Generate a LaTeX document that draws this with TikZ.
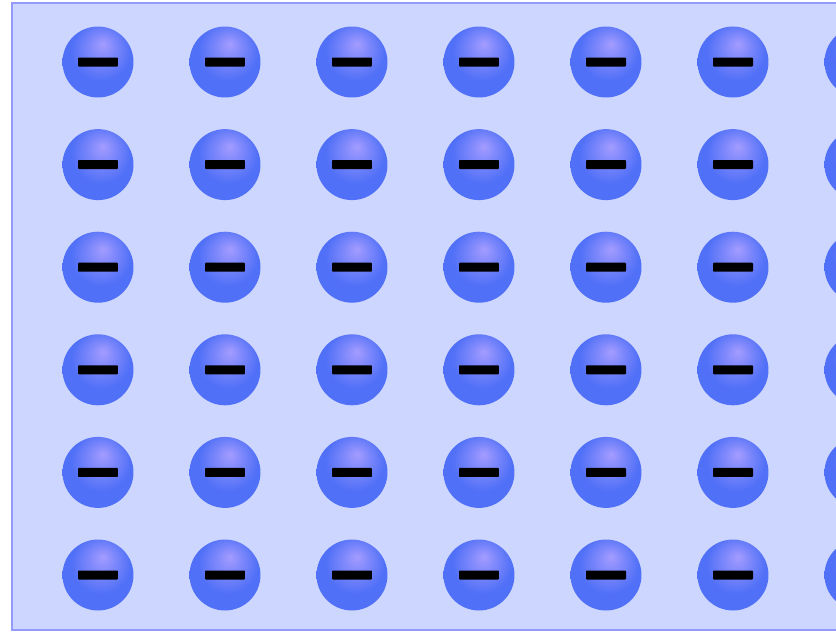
\documentclass[tikz,border=0pt]{standalone}
\usepackage{tikz}
\usepackage{xcolor}
\definecolor{plateblue}{HTML}{CDD6FF}
\definecolor{plateedge}{HTML}{939AFA}
\definecolor{ballblue}{HTML}{5070F7}
\definecolor{ballhilite}{HTML}{A49CFF}
\pgfdeclareradialshading{electron}{\pgfpoint{3.5bp}{13bp}}{color(0bp)=(ballhilite); color(9bp)=(ballhilite!55!ballblue); color(21bp)=(ballblue); color(50bp)=(ballblue)}

\begin{document}
\begin{tikzpicture}[x=0.02cm, y=-0.02cm,
  charge/.style={circle, inner sep=0pt, minimum size=1.42cm, shading=electron,
    path picture={\fill[black, rounded corners=0.5pt] ([xshift=-0.4cm, yshift=-0.09cm]path picture bounding box.center) rectangle ++(0.8cm,0.18cm);}}]
\useasboundingbox (0,0) rectangle (836,633);
\clip (0,0) rectangle (836,633);

% Plate
\draw[plateedge, line width=0.05cm, fill=plateblue] (12,3) rectangle (900,630);

% Charges
\foreach \col in {0,...,6}
  \foreach \row in {0,...,5}
    \node[charge] (q\col\row) at (98+127*\col, 62+102.6*\row) {};
\end{tikzpicture}
\end{document}
